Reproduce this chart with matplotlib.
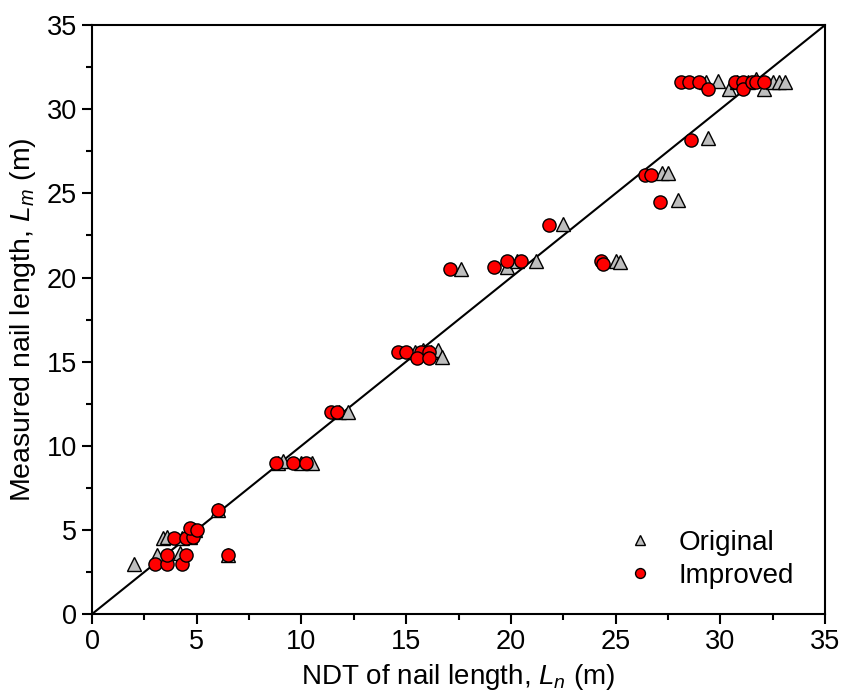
import matplotlib
matplotlib.use("Agg")
import matplotlib.pyplot as plt

plt.rcParams['font.family'] = ['Liberation Sans', 'DejaVu Sans']
plt.rcParams['mathtext.fontset'] = 'custom'
plt.rcParams['mathtext.rm'] = 'Liberation Sans'
plt.rcParams['mathtext.it'] = 'Liberation Sans:italic'

orig_x = [2.0, 3.1, 3.4, 3.6, 4.2, 4.3, 4.7, 4.9, 6.0, 6.5,
          8.9, 9.1, 10.0, 10.5,
          11.8, 12.2,
          15.4, 15.8, 16.2, 16.5, 16.7,
          17.6, 19.8, 20.3, 21.2, 22.5, 25.0, 25.2,
          28.0, 27.2, 27.5, 29.4,
          29.3, 29.9, 30.4, 30.8, 31.3, 31.7, 32.1, 32.5, 32.8, 33.1]
orig_y = [3.0, 3.5, 4.5, 4.6, 3.6, 4.5, 4.6, 5.0, 6.2, 3.5,
          9.0, 9.1, 9.0, 9.0,
          12.0, 12.0,
          15.6, 15.7, 15.6, 15.7, 15.3,
          20.5, 20.6, 21.0, 21.0, 23.2, 21.0, 20.9,
          24.6, 26.2, 26.2, 28.3,
          31.6, 31.7, 31.2, 31.6, 31.6, 31.8, 31.2, 31.6, 31.6, 31.6]

impr_x = [3.0, 3.6, 4.3, 3.6, 4.5, 3.9, 4.5, 4.8, 4.7, 5.0, 6.0, 6.5,
          8.8, 9.6, 10.2,
          11.4, 11.7,
          14.6, 15.0, 15.7, 16.1, 15.5, 16.1,
          17.1, 19.2, 19.8, 20.5, 21.8, 24.3, 24.4,
          27.1, 26.4, 26.7, 28.6,
          28.1, 28.5, 29.0, 29.4, 30.7, 31.1, 31.1, 31.5, 31.7, 32.1]
impr_y = [3.0, 3.0, 3.0, 3.5, 3.5, 4.5, 4.5, 4.6, 5.1, 5.0, 6.2, 3.5,
          9.0, 9.0, 9.0,
          12.0, 12.0,
          15.6, 15.6, 15.6, 15.6, 15.2, 15.2,
          20.5, 20.6, 21.0, 21.0, 23.1, 21.0, 20.8,
          24.5, 26.1, 26.1, 28.2,
          31.6, 31.6, 31.6, 31.2, 31.6, 31.6, 31.2, 31.6, 31.6, 31.6]

fig = plt.figure(figsize=(8.41, 6.97), dpi=100)
ax = fig.add_axes([0.1094, 0.119, 0.8716, 0.845])

ax.plot([0, 35], [0, 35], color='black', lw=1.5, zorder=1)
ax.plot(orig_x, orig_y, linestyle='none', marker='^', markersize=10,
        markerfacecolor='#BEBEBE', markeredgecolor='black', markeredgewidth=1.0,
        label='Original', zorder=2)
ax.plot(impr_x, impr_y, linestyle='none', marker='o', markersize=9.5,
        markerfacecolor='#FF0000', markeredgecolor='black', markeredgewidth=1.0,
        label='Improved', zorder=3)

ax.set_xlim(0, 35)
ax.set_ylim(0, 35)
ax.set_xticks(range(0, 36, 5))
ax.set_yticks(range(0, 36, 5))
ax.set_xticks([2.5 + 5 * i for i in range(7)], minor=True)
ax.set_yticks([2.5 + 5 * i for i in range(7)], minor=True)
ax.tick_params(which='major', direction='out', length=7, width=1.5, labelsize=19.5, pad=4)
ax.tick_params(which='minor', direction='out', length=4, width=1.5)
for s in ax.spines.values():
    s.set_linewidth(1.5)

ax.set_xlabel('NDT of nail length, $L_n$ (m)', fontsize=20, labelpad=5)
ax.set_ylabel('Measured nail length, $L_m$ (m)', fontsize=20.5, labelpad=6)

leg = ax.legend(loc='lower right', bbox_to_anchor=(0.992, 0.0), frameon=False,
                fontsize=20, handletextpad=0.4, labelspacing=0.25, markerscale=0.75)

fig.savefig('out.png', dpi=100)
